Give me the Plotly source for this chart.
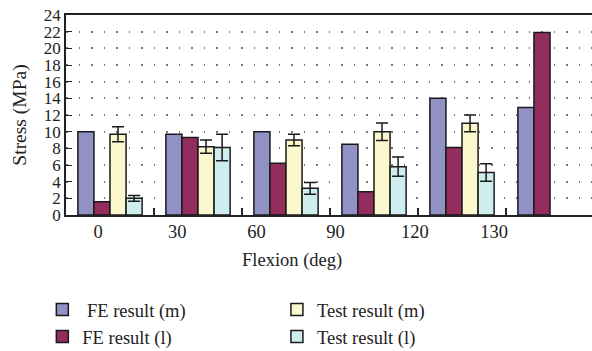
import plotly.graph_objects as go

# Flexion angles (deg) and measured / simulated contact stress (MPa)
flexion = ["0", "30", "60", "90", "120", "130"]
fe_m = [10.0, 9.7, 10.0, 8.5, 14.0, 12.9]
fe_l = [1.6, 9.3, 6.2, 2.8, 8.1, 21.9]
test_m = [9.7, 8.2, 9.0, 10.0, 11.0, None]
test_m_err = [0.9, 0.8, 0.7, 1.05, 1.0, None]
test_l = [2.0, 8.1, 3.2, 5.8, 5.1, None]
test_l_err = [0.35, 1.6, 0.7, 1.15, 1.05, None]

series_names = [" FE result (m)", "FE result (l)", "Test result (m)", "Test result (l)"]
colors = ["#9191c6", "#922d5d", "#faf8cc", "#cfecef"]

FONT = "Liberation Serif"
INK = "#222"
EDGE = "#1a1a1a"
TXT = 18.5

fig = go.Figure()

def add_bar(name, values, color, legend, rank, err=None):
    kw = {}
    if err is not None:
        kw["error_y"] = dict(type="data", array=err, visible=True,
                             color=EDGE, thickness=1.5, width=6)
    fig.add_trace(go.Bar(
        x=flexion, y=values, name=name,
        marker=dict(color=color, line=dict(color=EDGE, width=1.5)),
        legend=legend, legendrank=rank, **kw))

add_bar(series_names[0], fe_m, colors[0], "legend", 1)
add_bar(series_names[1], fe_l, colors[1], "legend", 2)
add_bar(series_names[2], test_m, colors[2], "legend2", 3, test_m_err)
add_bar(series_names[3], test_l, colors[3], "legend2", 4, test_l_err)

# Separate axis carrying the flexion tick labels
fig.add_trace(go.Scatter(
    x=flexion, y=[0] * len(flexion), xaxis="x2", mode="markers",
    marker=dict(opacity=0), showlegend=False, hoverinfo="skip"))

legend_style = dict(
    xanchor="left", yanchor="top", orientation="v",
    font=dict(family=FONT, size=TXT, color=INK),
    bgcolor="rgba(0,0,0,0)", tracegroupgap=0,
)

fig.update_layout(
    width=592, height=351,
    margin=dict(l=66, r=0, t=15, b=136, autoexpand=False),
    paper_bgcolor="white", plot_bgcolor="white",
    font=dict(family=FONT, size=TXT, color=INK),
    barmode="group", bargap=0.27, bargroupgap=0,
    xaxis=dict(
        type="category", range=[-0.5, 5.477],
        showticklabels=False, ticks="inside", ticklen=7, tickwidth=1.5,
        tickcolor=INK, tickson="boundaries",
        showline=True, linecolor=INK, linewidth=1.5, mirror=True,
        showgrid=False, zeroline=False, automargin=False,
    ),
    xaxis2=dict(
        type="category", overlaying="x", anchor="y", side="bottom",
        range=[-0.404, 6.237], showline=False, showgrid=False,
        ticks="", ticklabelstandoff=3, automargin=False,
        tickfont=dict(family=FONT, size=TXT, color=INK),
    ),
    yaxis=dict(
        range=[0, 24], dtick=2, ticks="inside", ticklen=6, tickwidth=1,
        tickcolor=INK,
        showline=True, linecolor=INK, linewidth=1.5,
        showgrid=True, gridcolor="#777", gridwidth=1.5, griddash="1.5px,11px",
        zeroline=False, automargin=False,
        tickfont=dict(family=FONT, size=17, color=INK),
        title=dict(text="Stress (MPa)", font=dict(family=FONT, size=19.5, color=INK),
                   standoff=12),
    ),
    annotations=[dict(
        text="Flexion (deg)", xref="paper", yref="paper",
        x=0.43, y=-0.225, xanchor="center", yanchor="middle",
        showarrow=False, font=dict(family=FONT, size=TXT, color=INK))],
    legend=dict(x=-0.045, y=-0.38, **legend_style),
    legend2=dict(x=0.401, y=-0.38, **legend_style),
)

fig.write_html("out.html")
